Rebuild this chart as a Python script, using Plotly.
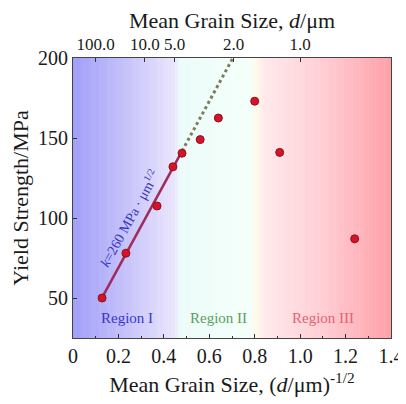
import numpy as np
import plotly.graph_objects as go

# Data
x_inv_sqrt_d = [0.128, 0.233, 0.37, 0.44, 0.48, 0.56, 0.64, 0.80, 0.91, 1.24]
yield_strength = [50, 78, 107.5, 132, 140.5, 149, 162.5, 173, 141, 87]
fit_k = 260
fit_sigma0 = 17
fit_solid_range = [0.125, 0.48]
fit_dot_range = [0.48, 0.705]
top_tick_d = [100.0, 10.0, 5.0, 2.0, 1.0]
top_tick_labels = ["100.0", "10.0", "5.0", "2.0", "1.0"]
region_names = ["Region I", "Region II", "Region III"]
region_centers = [0.238, 0.64, 1.10]

FONT = "Liberation Serif"

fig = go.Figure()

# gradient background
stops = [(0.0, (160, 158, 248)), (0.22, (196, 192, 250)), (0.45, (234, 230, 252)),
         (0.47, (236, 252, 250)), (0.78, (244, 255, 249)), (0.81, (255, 250, 232)),
         (0.84, (255, 234, 236)), (1.1, (255, 206, 212)), (1.4, (255, 160, 168))]
def col(x):
    for (x0, c0), (x1, c1) in zip(stops[:-1], stops[1:]):
        if x0 <= x <= x1:
            t = (x - x0) / (x1 - x0) if x1 > x0 else 0
            return "rgb(%d,%d,%d)" % tuple(round(a + (b - a) * t) for a, b in zip(c0, c1))
    return "rgb(%d,%d,%d)" % stops[-1][1]
n = 140
edges = np.linspace(0, 1.4, n + 1)
shapes = []
for a, b in zip(edges[:-1], edges[1:]):
    shapes.append(dict(type="rect", xref="x", yref="paper", x0=a, x1=b + 0.002, y0=0, y1=1,
                       fillcolor=col((a + b) / 2), line=dict(width=0), layer="below"))

xs = np.array(fit_solid_range)
fig.add_trace(go.Scatter(x=xs, y=fit_sigma0 + fit_k * xs, mode="lines",
                         line=dict(color="#a02a5a", width=2.5), showlegend=False))
xd = np.array(fit_dot_range)
fig.add_trace(go.Scatter(x=xd, y=fit_sigma0 + fit_k * xd, mode="lines",
                         line=dict(color="#7f7d58", width=3, dash="dot"), showlegend=False))
fig.add_trace(go.Scatter(x=x_inv_sqrt_d, y=yield_strength, mode="markers",
                         marker=dict(color="#d41428", size=8, line=dict(color="#901020", width=1)),
                         showlegend=False))
# trace anchoring the top axis
top_vals = [d ** -0.5 for d in top_tick_d]
fig.add_trace(go.Scatter(x=top_vals, y=[30] * len(top_vals), xaxis="x2", mode="markers",
                         marker=dict(opacity=0), showlegend=False, hoverinfo="skip"))

annotations = []
region_colors = ["#3838c8", "#5a9e5a", "#e06474"]
for name, cx, c in zip(region_names, region_centers, region_colors):
    annotations.append(dict(x=cx, y=37.5, text=name, showarrow=False,
                            font=dict(family=FONT, size=15, color=c)))
annotations.append(dict(x=0.246, y=100, text="<i>k</i>=260 MPa · μm<sup>1/2</sup>", showarrow=False,
                        textangle=-61, font=dict(family=FONT, size=14, color="#3535c0")))

axis_common = dict(showline=True, linecolor="#444", linewidth=1, automargin=False,
                   ticks="inside", tickcolor="#333", ticklen=4, showgrid=False, zeroline=False,
                   tickfont=dict(family=FONT, size=20, color="#1a1a1a"))

fig.update_layout(
    width=398, height=396,
    margin=dict(l=65, r=15, t=50, b=66),
    paper_bgcolor="white", plot_bgcolor="white",
    shapes=shapes, annotations=annotations,
    xaxis=dict(range=[0, 1.4], tickvals=[0, 0.2, 0.4, 0.6, 0.8, 1.0, 1.2, 1.4],
               ticktext=["0", "0.2", "0.4", "0.6", "0.8", "1.0", "1.2", "1.4"],
               minor=dict(dtick=0.1, ticks="inside", ticklen=2, tickcolor="#333"),
               title=dict(text="Mean Grain Size, (<i>d</i>/μm)<sup>-1/2</sup>",
                          font=dict(family=FONT, size=22, color="#1a1a1a"), standoff=10),
               **axis_common),
    xaxis2=dict(overlaying="x", side="top", range=[0, 1.4], tickvals=top_vals,
                ticktext=top_tick_labels,
                title=dict(text="Mean Grain Size, <i>d</i>/μm",
                           font=dict(family=FONT, size=22, color="#1a1a1a"), standoff=4),
                **{**axis_common, "tickfont": dict(family=FONT, size=17, color="#1a1a1a")}),
    yaxis=dict(range=[25, 200], tickvals=[50, 100, 150, 200], mirror=True,
               title=dict(text="Yield Strength/MPa", font=dict(family=FONT, size=22, color="#1a1a1a"),
                          standoff=4),
               **axis_common),
)

fig.write_html("out.html")
